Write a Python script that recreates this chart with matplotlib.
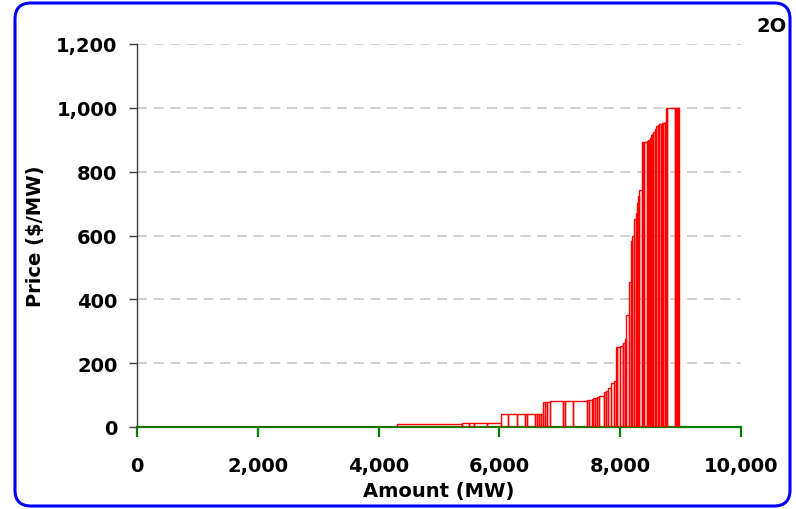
import matplotlib.pyplot as plt
from matplotlib.patches import FancyBboxPatch
from matplotlib.transforms import IdentityTransform
from matplotlib.ticker import StrMethodFormatter

plt.rcParams['font.family'] = ['DejaVu Sans']

# bid stack: start of each offer (MW) and its price ($/MW)
seg_start = [0, 4305, 5381, 5497, 5580, 5790,
             6021, 6147, 6296, 6424, 6462, 6590, 6618, 6661, 6684,
             6727, 6755, 6793, 6838, 7058, 7086, 7213,
             7445, 7483, 7528, 7555, 7583, 7621, 7654,
             7732, 7760, 7803, 7843, 7897,
             7930, 7950, 8000, 8040, 8051, 8079,
             8101, 8151, 8179, 8200,
             8234, 8257, 8273, 8300, 8316,
             8356, 8370, 8395, 8449, 8466, 8482, 8495,
             8505, 8522, 8548, 8576, 8593, 8631, 8650,
             8671, 8692, 8714, 8743, 8758, 8781,
             8907, 8925, 8940, 8960]
seg_price = [0, 10, 12, 12, 12, 12,
             42, 42, 42, 42, 42, 42, 42, 42, 42,
             77, 77, 77, 80, 80, 80, 80,
             85, 85, 87, 90, 90, 93, 96,
             111, 113, 121, 138, 143,
             250, 250, 255, 260, 263, 276,
             351, 453, 584, 597,
             652, 672, 702, 725, 742,
             892, 892, 894, 895, 898, 900, 905,
             916, 918, 925, 935, 942, 946, 948,
             950, 952, 953, 955, 1000, 1000,
             1000, 1000, 1000, 1000]
stack_end = 8978

seg_width = [b - a for a, b in zip(seg_start, seg_start[1:] + [stack_end])]

fig = plt.figure(figsize=(7.96, 5.10), dpi=100)
ax = fig.add_axes([137/796, 1 - 428/510, 604/796, 383/510])

ax.bar(seg_start, seg_price, width=seg_width, align='edge',
       facecolor='none', edgecolor='red', linewidth=1.0, zorder=3)

ax.set_xlim(0, 10000)
ax.set_ylim(0, 1200)
ax.set_xticks(range(0, 10001, 2000))
ax.set_yticks(range(0, 1201, 200))
ax.xaxis.set_major_formatter(StrMethodFormatter('{x:,.0f}'))
ax.yaxis.set_major_formatter(StrMethodFormatter('{x:,.0f}'))

ax.grid(axis='y', color='#c8c8c8', linestyle=(0, (6, 4)), linewidth=1.2, zorder=0)
ax.set_axisbelow(True)

for s in ['top', 'right']:
    ax.spines[s].set_visible(False)
ax.spines['left'].set_color('#404040')
ax.spines['left'].set_linewidth(1.0)
ax.spines['bottom'].set_color('#008000')
ax.spines['bottom'].set_linewidth(1.6)
ax.spines['bottom'].set_zorder(2)

ax.tick_params(axis='x', colors='#008000', length=7, width=1.6, direction='out',
               pad=14, labelsize=14, labelcolor='black')
ax.tick_params(axis='y', colors='#404040', length=6, width=1.0, direction='out',
               pad=8, labelsize=14, labelcolor='black')
for lab in ax.get_xticklabels() + ax.get_yticklabels():
    lab.set_fontweight('bold')

ax.set_xlabel('Amount (MW)', fontsize=14, fontweight='bold')
ax.set_ylabel('Price ($/MW)', fontsize=14, fontweight='bold')
ax.xaxis.set_label_coords(0.5, -0.14)
ax.yaxis.set_label_coords(-0.152, 0.5)

fig.text(787/796, 1 - 26/510, '2O', ha='right', va='center',
         fontsize=14, fontweight='bold')

# blue rounded frame around the whole chart
frame = FancyBboxPatch((15, 3), 775, 503, boxstyle='round,pad=0,rounding_size=16',
                       transform=IdentityTransform(), facecolor='none',
                       edgecolor='#0000ff', linewidth=2.2)
fig.patches.append(frame)

fig.savefig('out.png', dpi=100)
